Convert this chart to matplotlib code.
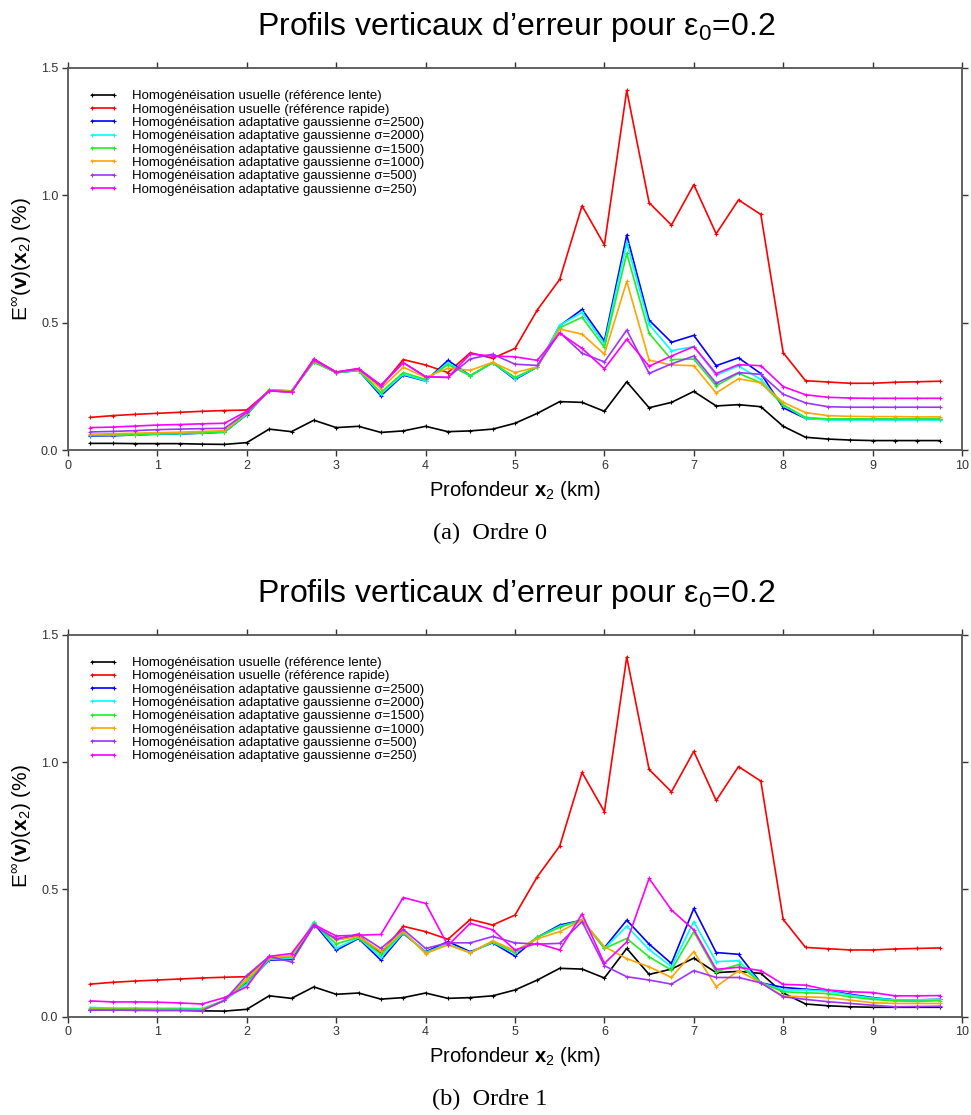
import matplotlib
matplotlib.use('Agg')
import matplotlib.pyplot as plt

plt.rcParams['font.family'] = ['Liberation Sans', 'DejaVu Sans']
plt.rcParams['mathtext.fontset'] = 'custom'
plt.rcParams['mathtext.rm'] = 'Liberation Sans'
plt.rcParams['mathtext.it'] = 'Liberation Sans:italic'
plt.rcParams['mathtext.bf'] = 'Liberation Sans:bold'

depth = [0.25, 0.5, 0.75, 1.0, 1.25, 1.5, 1.75, 2.0, 2.25, 2.5, 2.75, 3.0, 3.25,
         3.5, 3.75, 4.0, 4.25, 4.5, 4.75, 5.0, 5.25, 5.5, 5.75, 6.0, 6.25, 6.5,
         6.75, 7.0, 7.25, 7.5, 7.75, 8.0, 8.25, 8.5, 8.75, 9.0, 9.25, 9.5, 9.75]

labels = ["Homogénéisation usuelle (référence lente)",
          "Homogénéisation usuelle (référence rapide)",
          "Homogénéisation adaptative gaussienne σ=2500)",
          "Homogénéisation adaptative gaussienne σ=2000)",
          "Homogénéisation adaptative gaussienne σ=1500)",
          "Homogénéisation adaptative gaussienne σ=1000)",
          "Homogénéisation adaptative gaussienne σ=500)",
          "Homogénéisation adaptative gaussienne σ=250)"]
colors = ['black', '#ff0000', '#0000ff', '#00ffff', '#22ee22', '#ffa500', '#a033ff', '#ff00ff']

# reference solutions (same in both panels)
lente = [0.026, 0.026, 0.025, 0.025, 0.025, 0.023, 0.022, 0.029, 0.082, 0.072, 0.117, 0.088, 0.093,
         0.069, 0.075, 0.093, 0.072, 0.075, 0.082, 0.105, 0.144, 0.19, 0.187, 0.152, 0.268, 0.166,
         0.187, 0.23, 0.173, 0.178, 0.17, 0.093, 0.05, 0.043, 0.039, 0.037, 0.037, 0.037, 0.037]
rapide = [0.128, 0.135, 0.140, 0.144, 0.148, 0.152, 0.155, 0.157, 0.233, 0.228, 0.357, 0.306, 0.319,
          0.249, 0.355, 0.334, 0.304, 0.382, 0.36, 0.399, 0.55, 0.67, 0.959, 0.805, 1.412, 0.971,
          0.883, 1.042, 0.849, 0.982, 0.925, 0.382, 0.272, 0.267, 0.262, 0.262, 0.266, 0.268, 0.27]

# order 0
o0_s2500 = [0.055, 0.056, 0.059, 0.062, 0.063, 0.066, 0.07, 0.139, 0.235, 0.232, 0.347, 0.304, 0.312,
            0.213, 0.294, 0.271, 0.352, 0.292, 0.343, 0.277, 0.326, 0.488, 0.552, 0.428, 0.844, 0.51,
            0.423, 0.45, 0.331, 0.362, 0.3, 0.166, 0.124, 0.12, 0.12, 0.12, 0.12, 0.12, 0.12]
o0_s2000 = [0.057, 0.058, 0.06, 0.063, 0.064, 0.067, 0.071, 0.14, 0.235, 0.232, 0.345, 0.304, 0.312,
            0.22, 0.297, 0.272, 0.342, 0.292, 0.343, 0.28, 0.326, 0.49, 0.54, 0.416, 0.814, 0.493,
            0.39, 0.406, 0.294, 0.33, 0.277, 0.177, 0.124, 0.118, 0.118, 0.118, 0.118, 0.118, 0.118]
o0_s1500 = [0.058, 0.059, 0.061, 0.064, 0.065, 0.068, 0.072, 0.143, 0.235, 0.232, 0.345, 0.304, 0.313,
            0.226, 0.304, 0.277, 0.335, 0.291, 0.343, 0.285, 0.326, 0.48, 0.521, 0.403, 0.772, 0.458,
            0.355, 0.357, 0.252, 0.301, 0.264, 0.177, 0.128, 0.122, 0.122, 0.122, 0.122, 0.122, 0.122]
o0_s1000 = [0.062, 0.064, 0.066, 0.068, 0.07, 0.073, 0.076, 0.146, 0.234, 0.23, 0.35, 0.305, 0.315,
            0.241, 0.325, 0.285, 0.321, 0.313, 0.344, 0.304, 0.326, 0.475, 0.455, 0.376, 0.662, 0.353,
            0.334, 0.331, 0.224, 0.28, 0.264, 0.187, 0.147, 0.135, 0.132, 0.131, 0.131, 0.13, 0.13]
o0_s500 = [0.071, 0.073, 0.076, 0.08, 0.082, 0.084, 0.085, 0.148, 0.232, 0.227, 0.353, 0.305, 0.317,
           0.252, 0.343, 0.288, 0.285, 0.358, 0.376, 0.337, 0.332, 0.461, 0.38, 0.346, 0.471, 0.301,
           0.338, 0.369, 0.262, 0.304, 0.297, 0.219, 0.185, 0.17, 0.168, 0.168, 0.168, 0.168, 0.168]
o0_s250 = [0.088, 0.09, 0.094, 0.098, 0.1, 0.103, 0.105, 0.152, 0.233, 0.227, 0.357, 0.306, 0.32,
           0.255, 0.343, 0.288, 0.285, 0.377, 0.369, 0.366, 0.352, 0.459, 0.399, 0.319, 0.435, 0.329,
           0.369, 0.406, 0.3, 0.335, 0.331, 0.249, 0.217, 0.207, 0.204, 0.203, 0.203, 0.203, 0.203]

# order 1
o1_s2500 = [0.026, 0.026, 0.026, 0.026, 0.026, 0.026, 0.064, 0.131, 0.222, 0.225, 0.366, 0.261, 0.307,
            0.222, 0.327, 0.255, 0.295, 0.255, 0.29, 0.238, 0.312, 0.36, 0.379, 0.271, 0.379, 0.285,
            0.209, 0.425, 0.252, 0.245, 0.133, 0.115, 0.108, 0.102, 0.088, 0.075, 0.066, 0.066, 0.068]
o1_s2000 = [0.036, 0.034, 0.034, 0.033, 0.033, 0.032, 0.064, 0.128, 0.225, 0.23, 0.373, 0.268, 0.31,
            0.233, 0.33, 0.253, 0.285, 0.252, 0.292, 0.249, 0.312, 0.355, 0.378, 0.268, 0.355, 0.264,
            0.196, 0.373, 0.216, 0.22, 0.133, 0.105, 0.105, 0.1, 0.085, 0.073, 0.066, 0.066, 0.068]
o1_s1500 = [0.032, 0.031, 0.031, 0.03, 0.03, 0.029, 0.064, 0.14, 0.228, 0.235, 0.366, 0.286, 0.312,
            0.245, 0.333, 0.25, 0.283, 0.251, 0.295, 0.251, 0.312, 0.351, 0.38, 0.268, 0.307, 0.235,
            0.183, 0.334, 0.177, 0.205, 0.133, 0.098, 0.094, 0.091, 0.078, 0.068, 0.062, 0.06, 0.063]
o1_s1000 = [0.029, 0.028, 0.028, 0.028, 0.027, 0.027, 0.064, 0.15, 0.232, 0.24, 0.362, 0.301, 0.315,
            0.257, 0.335, 0.248, 0.283, 0.251, 0.298, 0.259, 0.306, 0.334, 0.378, 0.275, 0.228, 0.196,
            0.154, 0.256, 0.118, 0.181, 0.133, 0.081, 0.078, 0.075, 0.065, 0.055, 0.052, 0.052, 0.052]
o1_s500 = [0.026, 0.026, 0.026, 0.025, 0.025, 0.024, 0.064, 0.162, 0.237, 0.215, 0.358, 0.304, 0.325,
           0.268, 0.343, 0.268, 0.29, 0.29, 0.315, 0.29, 0.285, 0.288, 0.373, 0.2, 0.157, 0.144,
           0.128, 0.181, 0.154, 0.154, 0.133, 0.078, 0.068, 0.059, 0.052, 0.045, 0.039, 0.04, 0.041]
o1_s250 = [0.062, 0.058, 0.058, 0.057, 0.054, 0.05, 0.075, 0.118, 0.237, 0.248, 0.362, 0.317, 0.32,
           0.323, 0.468, 0.445, 0.28, 0.367, 0.341, 0.262, 0.288, 0.262, 0.403, 0.209, 0.294, 0.543,
           0.419, 0.341, 0.186, 0.194, 0.181, 0.127, 0.124, 0.105, 0.098, 0.095, 0.082, 0.082, 0.083]

W, H = 971, 1115
fig = plt.figure(figsize=(W / 100, H / 100), dpi=100)


def draw_panel(top_px, series, title, caption):
    ax = fig.add_axes([68 / W, 1 - (top_px + 382) / H, 894 / W, 382 / H])
    for vals, c, lab in zip(series, colors, labels):
        ax.plot(depth, vals, color=c, lw=1.2, marker='+', ms=3, mew=0.8, label=lab)
    ax.set_xlim(0, 10)
    ax.set_ylim(0, 1.5)
    ax.set_xticks(range(11))
    ax.set_yticks([0.0, 0.5, 1.0, 1.5])
    ax.yaxis.set_major_formatter(matplotlib.ticker.FormatStrFormatter('%.1f'))
    ax.tick_params(direction='out', length=4, width=1, labelsize=9, colors='#333333',
                   top=True, right=True, pad=3)
    for s in ax.spines.values():
        s.set_color('#555555')
        s.set_linewidth(1.3)
    ax.set_xlabel(r'Profondeur $\mathbf{x}_2$ (km)', fontsize=14.5, labelpad=5)
    ax.set_ylabel(r'E$^{\infty}$($\mathbf{v}$)($\mathbf{x}_2$) (%)', fontsize=15, labelpad=5)
    ax.legend(loc='upper left', frameon=False, fontsize=9.5, labelspacing=0.08,
              handlelength=2.3, handletextpad=1.0, numpoints=2,
              bbox_to_anchor=(0.012, 0.966), borderaxespad=0.3)
    fig.text(516 / W, 1 - (top_px - 41) / H, title, ha='center', va='center', fontsize=23)
    fig.text(490 / W, 1 - (top_px + 465) / H, caption, ha='center', va='center',
             fontsize=17.5, family=['Liberation Serif', 'DejaVu Serif'])
    return ax


title = 'Profils verticaux d’erreur pour ε$_0$=0.2'
draw_panel(68, [lente, rapide, o0_s2500, o0_s2000, o0_s1500, o0_s1000, o0_s500, o0_s250],
           title, '(a)  Ordre 0')
draw_panel(634.7, [lente, rapide, o1_s2500, o1_s2000, o1_s1500, o1_s1000, o1_s500, o1_s250],
           title, '(b)  Ordre 1')

fig.savefig('out.png', dpi=100)
